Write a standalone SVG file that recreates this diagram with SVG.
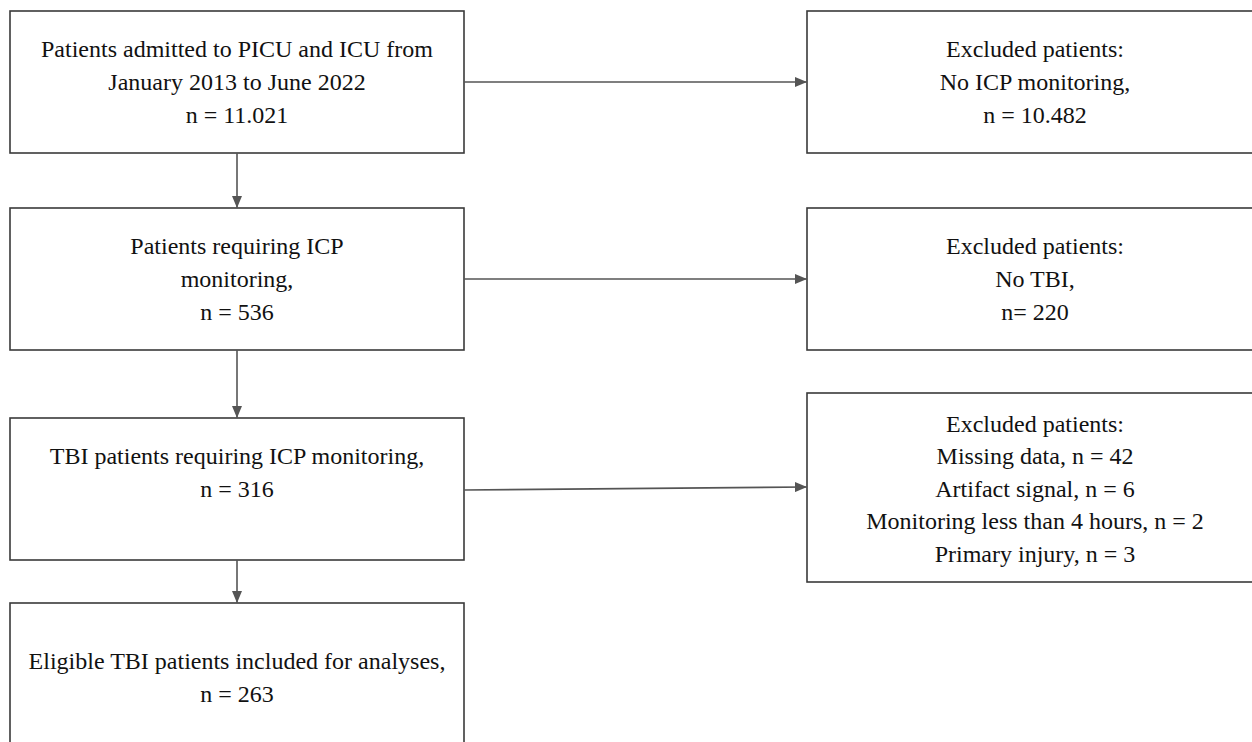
<svg xmlns="http://www.w3.org/2000/svg" width="1252" height="742" viewBox="0 0 1252 742">
<defs>
<marker id="ah" viewBox="0 0 12 10" refX="12" refY="5" markerWidth="12" markerHeight="10" markerUnits="userSpaceOnUse" orient="auto">
<path d="M0,0 L12,5 L0,10 Z" fill="#555"/>
</marker>
<style>
rect.box{fill:#fff;stroke:#3a3a3a;stroke-width:1.6}
text{font-family:"Liberation Serif","Times New Roman",serif;font-size:24px;fill:#111;text-anchor:middle}
.conn line{stroke:#555;stroke-width:1.6;marker-end:url(#ah)}
</style>
</defs>
<rect width="1252" height="742" fill="#fff"/>
<g id="n1"><rect class="box" x="10" y="11" width="454" height="142"/>
<text x="237" y="57">Patients admitted to PICU and ICU from</text>
<text x="237" y="90">January 2013 to June 2022</text>
<text x="237" y="123">n = 11.021</text></g>
<g id="n2"><rect class="box" x="10" y="208" width="454" height="142"/>
<text x="237" y="254">Patients requiring ICP</text>
<text x="237" y="287">monitoring,</text>
<text x="237" y="320">n = 536</text></g>
<g id="n3"><rect class="box" x="10" y="418" width="454" height="142"/>
<text x="237" y="464">TBI patients requiring ICP monitoring,</text>
<text x="237" y="497">n = 316</text></g>
<g id="n4"><rect class="box" x="10" y="603" width="454" height="160"/>
<text x="237" y="669">Eligible TBI patients included for analyses,</text>
<text x="237" y="702">n = 263</text></g>
<g id="e1"><rect class="box" x="807" y="11" width="460" height="142"/>
<text x="1035" y="57">Excluded patients:</text>
<text x="1035" y="90">No ICP monitoring,</text>
<text x="1035" y="123">n = 10.482</text></g>
<g id="e2"><rect class="box" x="807" y="208" width="460" height="142"/>
<text x="1035" y="254">Excluded patients:</text>
<text x="1035" y="287">No TBI,</text>
<text x="1035" y="320">n= 220</text></g>
<g id="e3"><rect class="box" x="807" y="393" width="460" height="189"/>
<text x="1035" y="432">Excluded patients:</text>
<text x="1035" y="464">Missing data, n = 42</text>
<text x="1035" y="497">Artifact signal, n = 6</text>
<text x="1035" y="529">Monitoring less than 4 hours, n = 2</text>
<text x="1035" y="562">Primary injury, n = 3</text></g>
<g class="conn" id="connectors">
<line x1="237" y1="153" x2="237" y2="208"/>
<line x1="237" y1="350" x2="237" y2="418"/>
<line x1="237" y1="560" x2="237" y2="603"/>
<line x1="464" y1="82" x2="807" y2="82"/>
<line x1="464" y1="279" x2="807" y2="279"/>
<line x1="464" y1="490" x2="807" y2="487"/>
</g>
</svg>
